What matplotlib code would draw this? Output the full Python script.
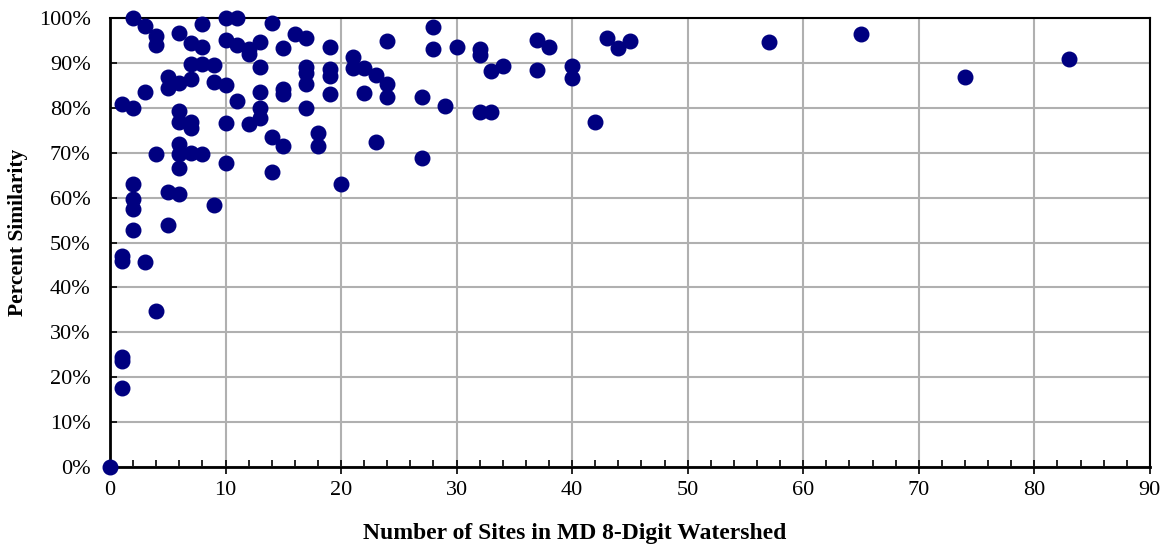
import matplotlib
matplotlib.use("Agg")
import matplotlib.pyplot as plt
from matplotlib.ticker import MultipleLocator, FuncFormatter

# number of sites in the watershed and percent similarity, grouped by site count
sites = [0,
         1, 1, 1, 1, 1, 1,
         2, 2, 2, 2, 2, 2,
         3, 3, 3,
         4, 4, 4, 4,
         5, 5, 5, 5,
         6, 6, 6, 6, 6, 6, 6, 6,
         7, 7, 7, 7, 7, 7,
         8, 8, 8, 8,
         9, 9, 9,
         10, 10, 10, 10, 10,
         11, 11, 11,
         12, 12, 12,
         13, 13, 13, 13, 13,
         14, 14, 14,
         15, 15, 15, 15,
         16,
         17, 17, 17, 17, 17,
         18, 18,
         19, 19, 19, 19,
         20,
         21, 21,
         22, 22,
         23, 23,
         24, 24, 24,
         27, 27,
         28, 28,
         29,
         30,
         32, 32, 32,
         33, 33,
         34,
         37, 37,
         38,
         40, 40,
         42, 43, 44, 45,
         57, 65, 74, 83]

similarity = [0,
              80.8, 46.9, 45.9, 24.4, 23.7, 17.5,
              100, 79.9, 63.1, 59.8, 57.4, 52.8,
              98.2, 83.5, 45.6,
              96.0, 94.0, 69.7, 34.7,
              86.9, 84.3, 61.3, 53.9,
              96.6, 85.5, 79.2, 76.9, 71.9, 69.7, 66.5, 60.7,
              94.5, 89.7, 86.5, 76.8, 75.4, 70.0,
              98.7, 93.5, 89.7, 69.7,
              89.5, 85.8, 58.4,
              100, 95.1, 85.0, 76.7, 67.6,
              100, 94.0, 81.5,
              93.2, 91.9, 76.3,
              94.7, 89.0, 83.5, 79.9, 77.8,
              98.8, 73.4, 65.7,
              93.4, 84.2, 83.1, 71.5,
              96.4,
              95.5, 89.1, 87.8, 85.2, 79.9,
              74.4, 71.5,
              93.6, 88.6, 87.1, 83.0,
              63.0,
              91.4, 88.8,
              88.8, 83.2,
              87.3, 72.4,
              94.9, 85.2, 82.5,
              82.5, 68.9,
              97.9, 93.1,
              80.5,
              93.6,
              93.2, 91.8, 79.1,
              88.2, 79.1,
              89.3,
              95.1, 88.4,
              93.6,
              89.3, 86.6,
              76.9, 95.6, 93.4, 94.8,
              94.7, 96.4, 86.8, 90.9]

plt.rcParams['font.family'] = ['Liberation Serif', 'DejaVu Serif']

fig = plt.figure(figsize=(11.65, 5.45), dpi=100)
ax = fig.add_axes([0.0944, 0.143, 0.8926, 0.824])

ax.scatter(sites, similarity, s=110, color='#000080', zorder=3, clip_on=False)

ax.set_xlim(0, 90)
ax.set_ylim(0, 100)
ax.xaxis.set_major_locator(MultipleLocator(10))
ax.xaxis.set_minor_locator(MultipleLocator(2))
ax.yaxis.set_major_locator(MultipleLocator(10))
ax.yaxis.set_major_formatter(FuncFormatter(lambda v, p: f"{v:.0f}%"))

ax.grid(True, which='major', color='#b0b0b0', linewidth=1.5, zorder=0)
ax.set_axisbelow(True)
for sp in ax.spines.values():
    sp.set_color('black')
    sp.set_linewidth(1.5)
ax.spines['left'].set_linewidth(2)
ax.spines['bottom'].set_linewidth(2)

ax.tick_params(axis='x', which='major', direction='inout', length=10, width=1.2, labelsize=16, pad=5)
ax.tick_params(axis='x', which='minor', direction='in', length=5, width=1.2)
ax.tick_params(axis='y', which='major', direction='in', length=5, width=1.2, labelsize=16, pad=14)

# axis titles placed like the original (x title is off-centre)
fig.text(0.493, 0.022, 'Number of Sites in MD 8-Digit Watershed', fontsize=17,
         fontweight='bold', ha='center', va='center')
fig.text(0.0155, 0.574, 'Percent Similarity', fontsize=15.5, fontweight='bold',
         ha='center', va='center', rotation=90)

fig.savefig('out.png', dpi=100)
